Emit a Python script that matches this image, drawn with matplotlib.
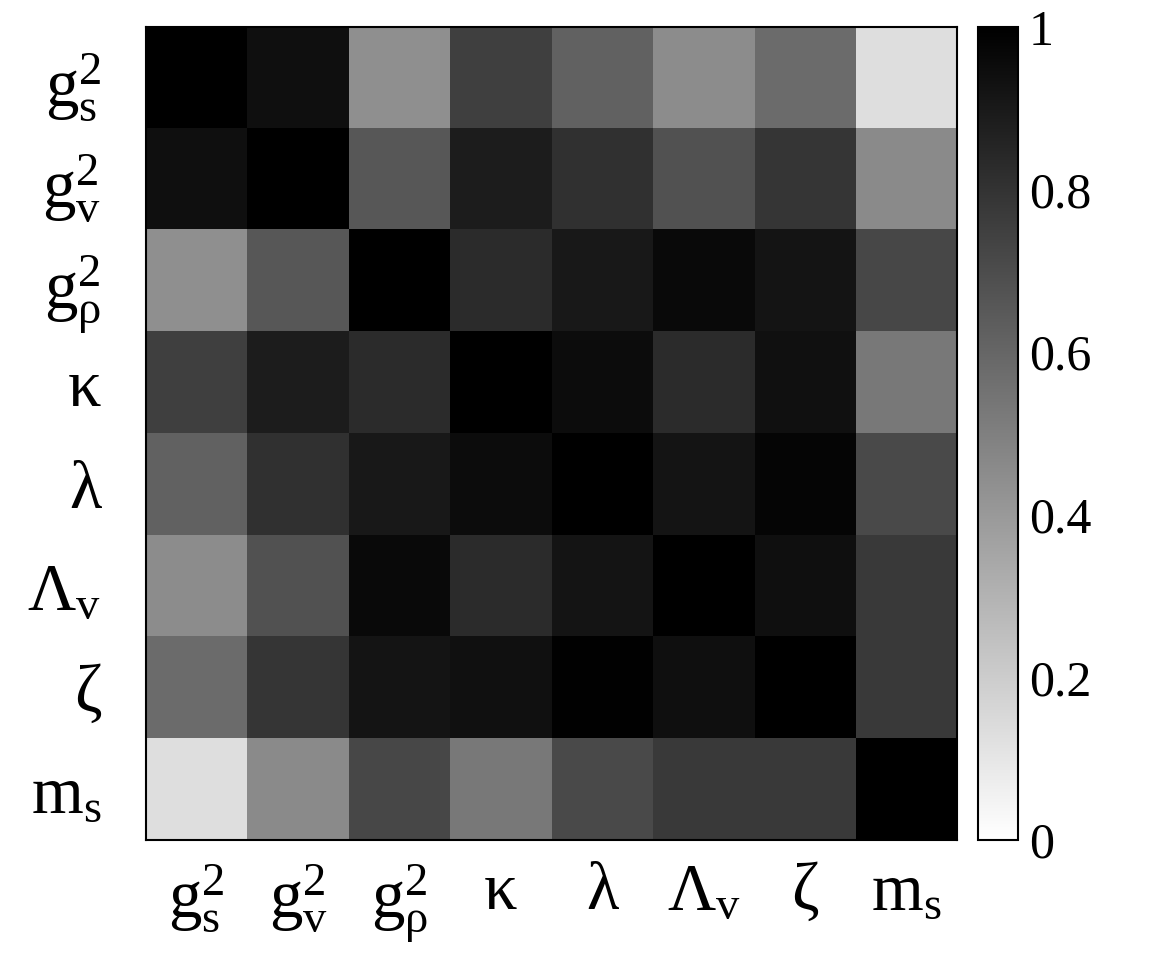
import matplotlib

matplotlib.use("Agg")
import matplotlib.pyplot as plt
import numpy as np

plt.rcParams["font.family"] = ["Liberation Serif", "DejaVu Serif"]
plt.rcParams["mathtext.fontset"] = "custom"
plt.rcParams["mathtext.rm"] = "Liberation Serif"
plt.rcParams["mathtext.it"] = "Liberation Serif:italic"

labels = [
    r"$\mathrm{g}_\mathrm{s}^2$",
    r"$\mathrm{g}_\mathrm{v}^2$",
    r"$\mathrm{g}_\mathrm{ρ}^2$",
    "κ",
    "λ",
    r"$\mathrm{Λ}_\mathrm{v}$",
    "ζ",
    r"$\mathrm{m}_\mathrm{s}$",
]

# correlation matrix, rows top to bottom
corr = np.array([
    [1.00, 0.94, 0.44, 0.75, 0.62, 0.45, 0.58, 0.13],
    [0.94, 1.00, 0.66, 0.89, 0.81, 0.68, 0.79, 0.46],
    [0.44, 0.66, 1.00, 0.83, 0.90, 0.96, 0.92, 0.72],
    [0.75, 0.89, 0.83, 1.00, 0.95, 0.83, 0.93, 0.53],
    [0.62, 0.81, 0.90, 0.95, 1.00, 0.92, 0.98, 0.71],
    [0.45, 0.68, 0.96, 0.83, 0.92, 1.00, 0.94, 0.77],
    [0.58, 0.79, 0.92, 0.93, 0.99, 0.94, 1.00, 0.77],
    [0.13, 0.46, 0.72, 0.53, 0.71, 0.77, 0.77, 1.00],
])

fig = plt.figure(figsize=(11.52, 9.71), dpi=100)
ax = fig.add_axes([146 / 1152, 131 / 971, 811 / 1152, 813 / 971])
cax = fig.add_axes([978 / 1152, 131 / 971, 40 / 1152, 813 / 971])

im = ax.imshow(corr, cmap="gray_r", vmin=0, vmax=1, aspect="auto",
               interpolation="nearest")
ax.set_xticks(range(len(labels)))
ax.set_yticks(range(len(labels)))
ax.set_xticklabels(labels, fontsize=48)
ax.set_yticklabels(labels, fontsize=48)
ax.tick_params(length=0)
ax.tick_params(axis="x", pad=16)
ax.tick_params(axis="y", pad=32)
for s in ax.spines.values():
    s.set_linewidth(1.5)

cb = fig.colorbar(im, cax=cax, ticks=[0, 0.2, 0.4, 0.6, 0.8, 1])
cb.ax.set_yticklabels(["0", "0.2", "0.4", "0.6", "0.8", "1"])
cb.ax.tick_params(length=0, labelsize=36, pad=8)
cb.outline.set_linewidth(1.5)

fig.savefig("out.png", dpi=100)
